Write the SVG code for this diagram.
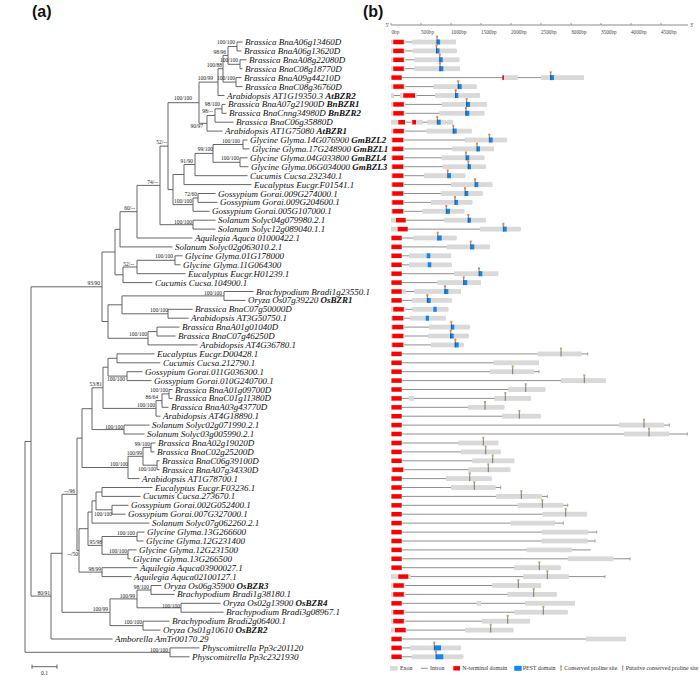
<svg xmlns="http://www.w3.org/2000/svg" xmlns:xlink="http://www.w3.org/1999/xlink" width="700" height="691" viewBox="0 0 700 691">
<style>
.t{font-family:"Liberation Serif",serif;font-style:italic;font-size:9px;fill:#111}
.b{font-weight:bold}
.s{font-family:"Liberation Serif",serif;font-size:5.5px;fill:#222;text-anchor:end}
.tree{fill:none;stroke:#555;stroke-width:0.9}
.ex{fill:#d9d9d9}.nt{fill:#ff0000}.pe{fill:#0f87f0}
.in{stroke:#8f8f8f;stroke-width:1;fill:none}
.lg{font-family:"Liberation Serif",serif;font-size:5.9px;fill:#333}
.ax{font-family:"Liberation Serif",serif;font-size:5.2px;fill:#444}
.pl{font-family:"Liberation Sans",Arial,sans-serif;font-weight:bold;font-size:16px;fill:#111}
</style>
<defs>
<g id="mc"><path d="M0 -4.5V2.5" stroke="#3a3a3a" stroke-width="0.7"/><rect x="-1" y="-6.3" width="2" height="2" fill="#f5793b"/></g>
<g id="mp"><path d="M0 -4.5V2.5" stroke="#4a4a4a" stroke-width="0.7"/><rect x="-1" y="-6.3" width="2" height="2" fill="#b9a56a"/></g>
<path id="tk" d="M0 -1.6V1.6" stroke="#8f8f8f" stroke-width="0.8"/>
<g id="e1"><rect class="ex" x="391" y="-2.4" width="11" height="4.8"/><rect class="nt" x="391.5" y="-2.2" width="10.2" height="4.4"/></g>
<g id="e1b"><rect class="ex" x="391" y="-2.4" width="14.5" height="4.8"/><rect class="nt" x="393.3" y="-2.2" width="10.5" height="4.4"/></g>
<g id="e1c"><rect class="ex" x="391" y="-2.4" width="13.3" height="4.8"/><rect class="nt" x="392.3" y="-2.2" width="11" height="4.4"/></g>
</defs>
<rect width="700" height="691" fill="#fff"/>
<text class="pl" x="32" y="17">(a)</text>
<text class="pl" x="363" y="17">(b)</text>

<g id="connectors" class="tree">
<path d="M237 42V50.9M237 42H242.5M237 50.9H241.5M240 59.8V68.7M240 59.8H246.5M240 68.7H242.5M228 46.5V64.3M228 46.5H237M228 64.3H240M236 77.6V86.6M236 77.6H241.5M236 86.6H242.5M223 55.4V82.1M223 55.4H228M223 82.1H236M218 68.7V95.5M218 68.7H223M218 95.5H224.5M222 104.4V113.3M222 104.4H225.5M222 113.3H226.5M215 108.8V122.2M215 108.8H222M215 122.2H233.5M207 115.5V131.1M207 115.5H215M207 131.1H222.5M199 82.1V123.3M199 82.1H218M199 123.3H207"/>
<path d="M243 140V148.9M243 140H247.5M243 148.9H249.5M240 157.8V166.7M240 157.8H247.5M240 166.7H248.5M213 144.5V162.3M213 144.5H243M213 162.3H240M195 153.4V175.7M195 153.4H213M195 175.7H247.5M184 164.5V184.6M184 164.5H195M184 184.6H251.5M198 193.5V202.4M198 193.5H215.5M198 202.4H217.5M193 198V211.3M193 198H198M193 211.3H209.5M173 174.5V204.6M173 174.5H184M173 204.6H193M168 102.7V189.6M168 102.7H199M168 189.6H173M193 220.2V229.1M193 220.2H215.5M193 229.1H215.5M160 146.1V224.7M160 146.1H168M160 224.7H193M137 185.4V238M137 185.4H160M137 238H192.5M120 211.7V246.9M120 211.7H137M120 246.9H172.5M175 255.8V264.8M175 255.8H182.5M175 264.8H180.5M137 260.3V273.7M137 260.3H175M137 273.7H185.5M123 267V282.6M123 267H137M123 282.6H152.5M115 229.3V274.8M115 229.3H120M115 274.8H123"/>
<path d="M224 291.5V300.4M224 291.5H253.5M224 300.4H245.5M168 309.3V318.2M168 309.3H192.5M168 318.2H188.5M122 295.9V313.8M122 295.9H224M122 313.8H168M157 327.1V336M157 327.1H179.5M157 336H175.5M148 331.6V344.9M148 331.6H157M148 344.9H197.5M108 304.8V338.3M108 304.8H122M108 338.3H148M102 252V321.5M102 252H115M102 321.5H108"/>
<path d="M117 353.9V362.8M117 353.9H154.5M117 362.8H160.5M127 371.7V380.6M127 371.7H142.5M127 380.6H151.5M108 358.3V376.1M108 358.3H117M108 376.1H127M169 389.5V398.4M169 389.5H172.5M169 398.4H172.5M162 393.9V407.3M162 393.9H169M162 407.3H168.5M156 400.6V416.2M156 400.6H162M156 416.2H160.5M103 367.2V408.4M103 367.2H108M103 408.4H156M124 425.1V434M124 425.1H149.5M124 434H144.5M92 387.8V429.6M92 387.8H103M92 429.6H124M151 443V451.9M151 443H155.5M151 451.9H154.5M157 460.8V469.7M157 460.8H159.5M157 469.7H159.5M143 447.4V465.2M143 447.4H151M143 465.2H157M128 456.3V478.6M128 456.3H143M128 478.6H139.5M82 408.7V467.5M82 408.7H92M82 467.5H128"/>
<path d="M102 487.5V496.4M102 487.5H152.5M102 496.4H140.5M112 505.3V514.2M112 505.3H128.5M112 514.2H125.5M96 492V509.8M96 492H102M96 509.8H112M92 500.9V523.1M92 500.9H96M92 523.1H149.5M137 532.1V541M137 532.1H144.5M137 541H143.5M128 549.9V558.8M128 549.9H136.5M128 558.8H130.5M102 536.5V554.3M102 536.5H137M102 554.3H128M88 512V545.4M88 512H92M88 545.4H102M102 567.7V576.6M102 567.7H137.5M102 576.6H131.5M79 528.7V572.1M79 528.7H88M79 572.1H102M77 438.1V550.4M77 438.1H82M77 550.4H79"/>
<path d="M151 585.5V594.4M151 585.5H161.5M151 594.4H174.5M181 603.3V612.2M181 603.3H220.5M181 612.2H223.5M137 590V607.8M137 590H151M137 607.8H181M143 621.2V630.1M143 621.2H169.5M143 630.1H160.5M110 598.9V625.6M110 598.9H137M110 625.6H143M62 494.3V612.3M62 494.3H77M62 612.3H110M51 553.3V639M51 553.3H62M51 639H112.5M31 286.8V596.1M31 286.8H102M31 596.1H51M170 647.9V656.8M170 647.9H199.5M170 656.8H189.5M25 441.5V652.3M25 441.5H31M25 652.3H170"/>
<path d="M32 666.7H57M32 664.6V668.8M57 664.6V668.8"/>
</g>
<text x="44.5" y="675" style="font-family:'Liberation Serif',serif;font-size:5.5px;fill:#222;text-anchor:middle">0.1</text>

<g id="support">
<text class="s" x="235" y="44">100/100</text>
<text class="s" x="226" y="53.7">98/96</text>
<text class="s" x="238" y="62">100/100</text>
<text class="s" x="222" y="67">100/88</text>
<text class="s" x="213" y="79.7">100/99</text>
<text class="s" x="235" y="79.7">100/100</text>
<text class="s" x="192" y="100">100/100</text>
<text class="s" x="220" y="106">98/100</text>
<text class="s" x="213" y="113">98/--</text>
<text class="s" x="203" y="128">90/97</text>
<text class="s" x="167" y="144">52/--</text>
<text class="s" x="240" y="142.7">100/100</text>
<text class="s" x="213" y="151.3">99/100</text>
<text class="s" x="239" y="160.3">100/100</text>
<text class="s" x="193" y="162.7">91/90</text>
<text class="s" x="158" y="183.7">74/--</text>
<text class="s" x="197" y="196">72/60</text>
<text class="s" x="192" y="203">100/100</text>
<text class="s" x="192" y="223.7">100/100</text>
<text class="s" x="135" y="210">60/--</text>
<text class="s" x="173" y="258">100/100</text>
<text class="s" x="134" y="266">52/--</text>
<text class="s" x="100" y="285.3">93/90</text>
<text class="s" x="222" y="294.7">100/100</text>
<text class="s" x="168" y="312">100/100</text>
<text class="s" x="147" y="336">100/100</text>
<text class="s" x="125" y="381">100/100</text>
<text class="s" x="102" y="386">53/81</text>
<text class="s" x="168" y="392">100/100</text>
<text class="s" x="158" y="399">86/64</text>
<text class="s" x="155" y="407">100/100</text>
<text class="s" x="123" y="428.7">100/100</text>
<text class="s" x="150" y="446">99/100</text>
<text class="s" x="142" y="454.7">100/99</text>
<text class="s" x="128" y="466.3">100/100</text>
<text class="s" x="156" y="471.3">100/100</text>
<text class="s" x="75" y="493">--/96</text>
<text class="s" x="112" y="516">100/100</text>
<text class="s" x="135" y="535">100/100</text>
<text class="s" x="102" y="544">95/98</text>
<text class="s" x="127" y="553">100/100</text>
<text class="s" x="78" y="556">--/50</text>
<text class="s" x="101" y="571">98/99</text>
<text class="s" x="149" y="588.7">98/100</text>
<text class="s" x="50" y="594.7">80/91</text>
<text class="s" x="135" y="597.7">100/99</text>
<text class="s" x="180" y="607.7">100/100</text>
<text class="s" x="108" y="611">100/99</text>
<text class="s" x="142" y="624">100/100</text>
<text class="s" x="168" y="652">100/100</text>
</g>

<g id="leaves">
<g id="leaf1"><text class="t" x="245" y="45">Brassica BnaA06g13460D</text></g>
<g id="leaf2"><text class="t" x="244" y="53.9">Brassica BnaA06g13620D</text></g>
<g id="leaf3"><text class="t" x="249" y="62.8">Brassica BnaA08g22080D</text></g>
<g id="leaf4"><text class="t" x="245" y="71.7">Brassica BnaC08g18770D</text></g>
<g id="leaf5"><text class="t" x="244" y="80.6">Brassica BnaA09g44210D</text></g>
<g id="leaf6"><text class="t" x="245" y="89.6">Brassica BnaC08g36760D</text></g>
<g id="leaf7"><text class="t" x="227" y="98.5">Arabidopsis AT1G19350.3 <tspan class="b">AtBZR2</tspan></text></g>
<g id="leaf8"><text class="t" x="228" y="107.4">Brassica BnaA07g21900D <tspan class="b">BnBZR1</tspan></text></g>
<g id="leaf9"><text class="t" x="229" y="116.3">Brassica BnaCnng34980D <tspan class="b">BnBZR2</tspan></text></g>
<g id="leaf10"><text class="t" x="236" y="125.2">Brassica BnaC06g35880D</text></g>
<g id="leaf11"><text class="t" x="225" y="134.1">Arabidopsis AT1G75080 <tspan class="b">AtBZR1</tspan></text></g>
<g id="leaf12"><text class="t" x="250" y="143">Glycine Glyma.14G076900 <tspan class="b">GmBZL2</tspan></text></g>
<g id="leaf13"><text class="t" x="252" y="151.9">Glycine Glyma.17G248900 <tspan class="b">GmBZL1</tspan></text></g>
<g id="leaf14"><text class="t" x="250" y="160.8">Glycine Glyma.04G033800 <tspan class="b">GmBZL4</tspan></text></g>
<g id="leaf15"><text class="t" x="251" y="169.7">Glycine Glyma.06G034000 <tspan class="b">GmBZL3</tspan></text></g>
<g id="leaf16"><text class="t" x="250" y="178.7">Cucumis Cucsa.232340.1</text></g>
<g id="leaf17"><text class="t" x="254" y="187.6">Eucalyptus Eucgr.F01541.1</text></g>
<g id="leaf18"><text class="t" x="218" y="196.5">Gossypium Gorai.009G274000.1</text></g>
<g id="leaf19"><text class="t" x="220" y="205.4">Gossypium Gorai.009G204600.1</text></g>
<g id="leaf20"><text class="t" x="212" y="214.3">Gossypium Gorai.005G107000.1</text></g>
<g id="leaf21"><text class="t" x="218" y="223.2">Solanum Solyc04g079980.2.1</text></g>
<g id="leaf22"><text class="t" x="218" y="232.1">Solanum Solyc12g089040.1.1</text></g>
<g id="leaf23"><text class="t" x="195" y="241">Aquilegia Aquca 01000422.1</text></g>
<g id="leaf24"><text class="t" x="175" y="249.9">Solanum Solyc02g063010.2.1</text></g>
<g id="leaf25"><text class="t" x="185" y="258.8">Glycine Glyma.01G178000</text></g>
<g id="leaf26"><text class="t" x="183" y="267.8">Glycine Glyma.11G064300</text></g>
<g id="leaf27"><text class="t" x="188" y="276.7">Eucalyptus Eucgr.H01239.1</text></g>
<g id="leaf28"><text class="t" x="155" y="285.6">Cucumis Cucsa.104900.1</text></g>
<g id="leaf29"><text class="t" x="256" y="294.5">Brachypodium Bradi1g23550.1</text></g>
<g id="leaf30"><text class="t" x="248" y="303.4">Oryza Os07g39220 <tspan class="b">OsBZR1</tspan></text></g>
<g id="leaf31"><text class="t" x="195" y="312.3">Brassica BnaC07g50000D</text></g>
<g id="leaf32"><text class="t" x="191" y="321.2">Arabidopsis AT3G50750.1</text></g>
<g id="leaf33"><text class="t" x="182" y="330.1">Brassica BnaA01g01040D</text></g>
<g id="leaf34"><text class="t" x="178" y="339">Brassica BnaC07g46250D</text></g>
<g id="leaf35"><text class="t" x="200" y="347.9">Arabidopsis AT4G36780.1</text></g>
<g id="leaf36"><text class="t" x="157" y="356.9">Eucalyptus Eucgr.D00428.1</text></g>
<g id="leaf37"><text class="t" x="163" y="365.8">Cucumis Cucsa.212790.1</text></g>
<g id="leaf38"><text class="t" x="145" y="374.7">Gossypium Gorai.011G036300.1</text></g>
<g id="leaf39"><text class="t" x="154" y="383.6">Gossypium Gorai.010G240700.1</text></g>
<g id="leaf40"><text class="t" x="175" y="392.5">Brassica BnaA01g09700D</text></g>
<g id="leaf41"><text class="t" x="175" y="401.4">Brassica BnaC01g11380D</text></g>
<g id="leaf42"><text class="t" x="171" y="410.3">Brassica BnaA03g43770D</text></g>
<g id="leaf43"><text class="t" x="163" y="419.2">Arabidopsis AT4G18890.1</text></g>
<g id="leaf44"><text class="t" x="152" y="428.1">Solanum Solyc02g071990.2.1</text></g>
<g id="leaf45"><text class="t" x="147" y="437">Solanum Solyc03g005990.2.1</text></g>
<g id="leaf46"><text class="t" x="158" y="446">Brassica BnaA02g19020D</text></g>
<g id="leaf47"><text class="t" x="157" y="454.9">Brassica BnaC02g25200D</text></g>
<g id="leaf48"><text class="t" x="162" y="463.8">Brassica BnaC06g39100D</text></g>
<g id="leaf49"><text class="t" x="162" y="472.7">Brassica BnaA07g34330D</text></g>
<g id="leaf50"><text class="t" x="142" y="481.6">Arabidopsis AT1G78700.1</text></g>
<g id="leaf51"><text class="t" x="155" y="490.5">Eucalyptus Eucgr.F03236.1</text></g>
<g id="leaf52"><text class="t" x="143" y="499.4">Cucumis Cucsa.273670.1</text></g>
<g id="leaf53"><text class="t" x="131" y="508.3">Gossypium Gorai.002G052400.1</text></g>
<g id="leaf54"><text class="t" x="128" y="517.2">Gossypium Gorai.007G327000.1</text></g>
<g id="leaf55"><text class="t" x="152" y="526.1">Solanum Solyc07g062260.2.1</text></g>
<g id="leaf56"><text class="t" x="147" y="535.1">Glycine Glyma.13G266600</text></g>
<g id="leaf57"><text class="t" x="146" y="544">Glycine Glyma.12G231400</text></g>
<g id="leaf58"><text class="t" x="139" y="552.9">Glycine Glyma.12G231500</text></g>
<g id="leaf59"><text class="t" x="133" y="561.8">Glycine Glyma.13G266500</text></g>
<g id="leaf60"><text class="t" x="140" y="570.7">Aquilegia Aquca03900027.1</text></g>
<g id="leaf61"><text class="t" x="134" y="579.6">Aquilegia Aquca02100127.1</text></g>
<g id="leaf62"><text class="t" x="164" y="588.5">Oryza Os06g35900 <tspan class="b">OsBZR3</tspan></text></g>
<g id="leaf63"><text class="t" x="177" y="597.4">Brachypodium Bradi1g38180.1</text></g>
<g id="leaf64"><text class="t" x="223" y="606.3">Oryza Os02g13900 <tspan class="b">OsBZR4</tspan></text></g>
<g id="leaf65"><text class="t" x="226" y="615.2">Brachypodium Bradi3g08967.1</text></g>
<g id="leaf66"><text class="t" x="172" y="624.2">Brachypodium Bradi2g06400.1</text></g>
<g id="leaf67"><text class="t" x="163" y="633.1">Oryza Os01g10610 <tspan class="b">OsBZR2</tspan></text></g>
<g id="leaf68"><text class="t" x="115" y="642">Amborella AmTr00170.29</text></g>
<g id="leaf69"><text class="t" x="202" y="650.9">Physcomitrella Pp3c201120</text></g>
<g id="leaf70"><text class="t" x="192" y="659.8">Physcomitrella Pp3c2321930</text></g>
</g>

<g id="axis">
<path d="M391 25H688" stroke="#8a8a8a" stroke-width="1"/>
<path d="M391 25V22.8M421 25V22.8M451 25V22.8M481 25V22.8M511 25V22.8M541 25V22.8M571 25V22.8M601 25V22.8M631 25V22.8M661 25V22.8" stroke="#8a8a8a" stroke-width="0.8"/>
<text class="ax" x="385.5" y="27">5'</text>
<text class="ax" x="690" y="27">3'</text>
<text class="ax" x="391.5" y="33.5">0bp</text>
<text class="ax" x="421" y="33.5">500bp</text>
<text class="ax" x="451" y="33.5">1000bp</text>
<text class="ax" x="481" y="33.5">1500bp</text>
<text class="ax" x="511" y="33.5">2000bp</text>
<text class="ax" x="541" y="33.5">2500bp</text>
<text class="ax" x="571" y="33.5">3000bp</text>
<text class="ax" x="601" y="33.5">3500bp</text>
<text class="ax" x="631" y="33.5">4000bp</text>
<text class="ax" x="661" y="33.5">4500bp</text>
</g>

<g id="genes">
<g id="gene1" transform="translate(0,42)"><path class="in" d="M391 0H456"/><use href="#e1b"/><rect class="ex" x="412.3" y="-2.4" width="43.7" height="4.8"/><rect class="pe" x="436.7" y="-2.5" width="3.4" height="5"/><use href="#mc" x="437"/></g>
<g id="gene2" transform="translate(0,50.9)"><path class="in" d="M391 0H456.7"/><use href="#e1b"/><rect class="ex" x="412.7" y="-2.4" width="44" height="4.8"/><rect class="pe" x="436" y="-2.5" width="3.5" height="5"/><use href="#mc" x="436.5"/></g>
<g id="gene3" transform="translate(0,59.8)"><path class="in" d="M391 0H459.3"/><use href="#e1b"/><rect class="ex" x="414.3" y="-2.4" width="45" height="4.8"/><rect class="pe" x="439.3" y="-2.5" width="3.4" height="5"/><use href="#mc" x="439.8"/></g>
<g id="gene4" transform="translate(0,68.7)"><path class="in" d="M391 0H460"/><use href="#e1b"/><rect class="ex" x="414.3" y="-2.4" width="45.7" height="4.8"/><rect class="pe" x="439.3" y="-2.5" width="4" height="5"/><use href="#mc" x="440"/></g>
<g id="gene5" transform="translate(0,77.6)"><path class="in" d="M391 0H584"/><use href="#e1"/><rect class="ex" x="502.3" y="-2.4" width="15.4" height="4.8"/><rect class="nt" x="502.3" y="-2.2" width="1.7" height="4.4"/><rect class="ex" x="541" y="-2.4" width="43" height="4.8"/><rect class="pe" x="550" y="-2.5" width="4" height="5"/><use href="#mc" x="550.7"/></g>
<g id="gene6" transform="translate(0,86.6)"><path class="in" d="M391 0H476.7"/><use href="#e1b"/><rect class="ex" x="433.3" y="-2.4" width="43.4" height="4.8"/><rect class="pe" x="457.7" y="-2.5" width="4" height="5"/><use href="#mc" x="458.3"/></g>
<g id="gene7" transform="translate(0,95.5)"><path class="in" d="M391 0H480"/><rect class="ex" x="391" y="-2.4" width="3" height="4.8"/><rect class="ex" x="400" y="-2.4" width="16.7" height="4.8"/><rect class="nt" x="403.3" y="-2.2" width="11.7" height="4.4"/><rect class="ex" x="435" y="-2.4" width="45" height="4.8"/><rect class="pe" x="455" y="-2.5" width="3.3" height="5"/><use href="#mc" x="455.7"/></g>
<g id="gene8" transform="translate(0,104.4)"><path class="in" d="M391 0H486.7"/><use href="#e1b"/><rect class="ex" x="441.7" y="-2.4" width="45" height="4.8"/><rect class="pe" x="466" y="-2.5" width="4" height="5"/><use href="#mc" x="466.7"/></g>
<g id="gene9" transform="translate(0,113.3)"><path class="in" d="M391 0H484.3"/><use href="#e1b"/><rect class="ex" x="439.3" y="-2.4" width="45" height="4.8"/><rect class="pe" x="465.3" y="-2.5" width="4" height="5"/><use href="#mc" x="466"/></g>
<g id="gene10" transform="translate(0,122.2)"><path class="in" d="M391 0H452.7"/><rect class="ex" x="391" y="-2.4" width="14.7" height="4.8"/><rect class="nt" x="398.3" y="-2.2" width="6.7" height="4.4"/><rect class="ex" x="411" y="-2.4" width="11.7" height="4.8"/><rect class="nt" x="412.3" y="-2.2" width="3.7" height="4.4"/><rect class="ex" x="427.3" y="-2.4" width="18.7" height="4.8"/><rect class="pe" x="437.3" y="-2.5" width="3.4" height="5"/><use href="#mc" x="437.3"/><rect class="ex" x="447" y="-2.4" width="5.7" height="4.8"/></g>
<g id="gene11" transform="translate(0,131.1)"><path class="in" d="M391 0H471.7"/><use href="#e1b"/><rect class="ex" x="426.7" y="-2.4" width="45" height="4.8"/><rect class="pe" x="452.7" y="-2.5" width="4" height="5"/><use href="#mc" x="453.3"/></g>
<g id="gene12" transform="translate(0,140)"><path class="in" d="M391 0H506.7"/><use href="#e1c"/><rect class="ex" x="465" y="-2.4" width="41.7" height="4.8"/><rect class="pe" x="489.3" y="-2.5" width="3.4" height="5"/><use href="#mc" x="489.3"/></g>
<g id="gene13" transform="translate(0,148.9)"><path class="in" d="M391 0H494"/><use href="#e1c"/><rect class="ex" x="452.3" y="-2.4" width="41.7" height="4.8"/><rect class="pe" x="476.7" y="-2.5" width="3.3" height="5"/><use href="#mc" x="477"/></g>
<g id="gene14" transform="translate(0,157.8)"><path class="in" d="M391 0H484.3"/><use href="#e1c"/><rect class="ex" x="441.7" y="-2.4" width="42.6" height="4.8"/><rect class="pe" x="466" y="-2.5" width="3.3" height="5"/><use href="#mc" x="466"/></g>
<g id="gene15" transform="translate(0,166.7)"><path class="in" d="M391 0H485.7"/><use href="#e1c"/><rect class="ex" x="442.7" y="-2.4" width="43" height="4.8"/><rect class="pe" x="467.7" y="-2.5" width="3.3" height="5"/><use href="#mc" x="468.3"/></g>
<g id="gene16" transform="translate(0,175.7)"><path class="in" d="M391 0H465.3"/><use href="#e1c"/><rect class="ex" x="424" y="-2.4" width="41.3" height="4.8"/><rect class="pe" x="447.7" y="-2.5" width="3.3" height="5"/><use href="#mc" x="447.7"/></g>
<g id="gene17" transform="translate(0,184.6)"><path class="in" d="M391 0H492.3"/><use href="#e1c"/><rect class="ex" x="451" y="-2.4" width="41.3" height="4.8"/><rect class="pe" x="475" y="-2.5" width="3.3" height="5"/><use href="#mc" x="475"/></g>
<g id="gene18" transform="translate(0,193.5)"><path class="in" d="M391 0H482.7"/><use href="#e1c"/><rect class="ex" x="440.7" y="-2.4" width="42" height="4.8"/><rect class="pe" x="465" y="-2.5" width="3.3" height="5"/><use href="#mc" x="465"/></g>
<g id="gene19" transform="translate(0,202.4)"><path class="in" d="M391 0H472.3"/><use href="#e1c"/><rect class="ex" x="431" y="-2.4" width="41.3" height="4.8"/><rect class="pe" x="454.7" y="-2.5" width="3.3" height="5"/><use href="#mc" x="455"/></g>
<g id="gene20" transform="translate(0,211.3)"><path class="in" d="M391 0H464.3"/><use href="#e1c"/><rect class="ex" x="422.3" y="-2.4" width="42" height="4.8"/><rect class="pe" x="446" y="-2.5" width="4" height="5"/><use href="#mc" x="446.3"/></g>
<g id="gene21" transform="translate(0,220.2)"><path class="in" d="M391 0H485.7"/><rect class="ex" x="391" y="-2.4" width="14.7" height="4.8"/><rect class="nt" x="396" y="-2.2" width="9.7" height="4.4"/><rect class="ex" x="444.3" y="-2.4" width="41.4" height="4.8"/><rect class="pe" x="467.7" y="-2.5" width="3.3" height="5"/><use href="#mc" x="468.3"/></g>
<g id="gene22" transform="translate(0,229.1)"><path class="in" d="M391 0H520.7"/><rect class="ex" x="391" y="-2.4" width="16.7" height="4.8"/><rect class="nt" x="397.7" y="-2.2" width="10" height="4.4"/><rect class="ex" x="480" y="-2.4" width="40.7" height="4.8"/><rect class="pe" x="503.3" y="-2.5" width="3.4" height="5"/><use href="#mc" x="503.3"/></g>
<g id="gene23" transform="translate(0,238)"><path class="in" d="M391 0H456.7"/><use href="#e1"/><rect class="ex" x="413.3" y="-2.4" width="43.4" height="4.8"/><rect class="pe" x="437.7" y="-2.5" width="4" height="5"/><use href="#mc" x="437.7"/></g>
<g id="gene24" transform="translate(0,246.9)"><path class="in" d="M391 0H490"/><use href="#e1"/><rect class="ex" x="446.7" y="-2.4" width="43.3" height="4.8"/><rect class="pe" x="470.7" y="-2.5" width="3.6" height="5"/><use href="#mc" x="470.7"/></g>
<g id="gene25" transform="translate(0,255.8)"><path class="in" d="M391 0H451"/><use href="#e1"/><rect class="ex" x="409" y="-2.4" width="42" height="4.8"/><rect class="pe" x="426.7" y="-2.5" width="3.6" height="5"/></g>
<g id="gene26" transform="translate(0,264.8)"><path class="in" d="M391 0H451.7"/><use href="#e1"/><rect class="ex" x="409" y="-2.4" width="42.7" height="4.8"/><rect class="pe" x="427.7" y="-2.5" width="3.6" height="5"/></g>
<g id="gene27" transform="translate(0,273.7)"><path class="in" d="M391 0H498.3"/><use href="#e1"/><rect class="ex" x="454" y="-2.4" width="44.3" height="4.8"/><rect class="pe" x="479" y="-2.5" width="3.3" height="5"/><use href="#mc" x="479"/></g>
<g id="gene28" transform="translate(0,282.6)"><path class="in" d="M391 0H481"/><use href="#e1"/><rect class="ex" x="437.3" y="-2.4" width="43.7" height="4.8"/><rect class="pe" x="463.3" y="-2.5" width="4" height="5"/><use href="#mc" x="463.7"/></g>
<g id="gene29" transform="translate(0,291.5)"><path class="in" d="M391 0H461"/><rect class="ex" x="391" y="-2.4" width="14.7" height="4.8"/><rect class="nt" x="391.5" y="-2.2" width="10.2" height="4.4"/><rect class="ex" x="414.3" y="-2.4" width="46.7" height="4.8"/><rect class="pe" x="444.3" y="-2.5" width="4" height="5"/><use href="#mc" x="445"/></g>
<g id="gene30" transform="translate(0,300.4)"><path class="in" d="M391 0H451.7"/><use href="#e1"/><rect class="ex" x="411.7" y="-2.4" width="40" height="4.8"/><rect class="pe" x="427" y="-2.5" width="3.7" height="5"/><use href="#mc" x="427.3"/></g>
<g id="gene31" transform="translate(0,309.3)"><path class="in" d="M391 0H448.3"/><use href="#e1b"/><rect class="ex" x="412.3" y="-2.4" width="36" height="4.8"/><rect class="pe" x="433.3" y="-2.5" width="3.4" height="5"/></g>
<g id="gene32" transform="translate(0,318.2)"><path class="in" d="M391 0H445.7"/><use href="#e1c"/><rect class="ex" x="410" y="-2.4" width="35.7" height="4.8"/><rect class="pe" x="425.7" y="-2.5" width="3.3" height="5"/></g>
<g id="gene33" transform="translate(0,327.1)"><path class="in" d="M391 0H469.7"/><use href="#e1c"/><rect class="ex" x="429" y="-2.4" width="40.7" height="4.8"/><rect class="pe" x="451" y="-2.5" width="3.3" height="5"/><use href="#mc" x="451.3"/></g>
<g id="gene34" transform="translate(0,336)"><path class="in" d="M391 0H468.7"/><use href="#e1c"/><rect class="ex" x="428" y="-2.4" width="40.7" height="4.8"/><rect class="pe" x="450" y="-2.5" width="3.7" height="5"/><use href="#mc" x="450.7"/></g>
<g id="gene35" transform="translate(0,344.9)"><path class="in" d="M391 0H463.7"/><use href="#e1c"/><rect class="ex" x="431" y="-2.4" width="32.7" height="4.8"/><rect class="pe" x="454.7" y="-2.5" width="4" height="5"/><use href="#mc" x="455.3"/></g>
<g id="gene36" transform="translate(0,353.9)"><path class="in" d="M391 0H587.7"/><use href="#tk" x="587.7"/><use href="#e1"/><rect class="ex" x="537.3" y="-2.4" width="44.4" height="4.8"/><use href="#mp" x="561"/></g>
<g id="gene37" transform="translate(0,362.8)"><path class="in" d="M391 0H539"/><use href="#e1"/><rect class="ex" x="493.3" y="-2.4" width="45.7" height="4.8"/></g>
<g id="gene38" transform="translate(0,371.7)"><path class="in" d="M391 0H539"/><use href="#tk" x="539"/><use href="#e1"/><rect class="ex" x="490" y="-2.4" width="44" height="4.8"/><use href="#mp" x="512.7"/></g>
<g id="gene39" transform="translate(0,380.6)"><path class="in" d="M391 0H605.7"/><use href="#e1"/><rect class="ex" x="561" y="-2.4" width="44.7" height="4.8"/><use href="#mp" x="584.3"/></g>
<g id="gene40" transform="translate(0,389.5)"><path class="in" d="M391 0H545.3"/><use href="#e1"/><rect class="ex" x="508.3" y="-2.4" width="37" height="4.8"/><use href="#mp" x="525.7"/></g>
<g id="gene41" transform="translate(0,398.4)"><path class="in" d="M391 0H531"/><use href="#e1"/><rect class="ex" x="409" y="-2.4" width="5" height="4.8"/><rect class="ex" x="494.3" y="-2.4" width="36.7" height="4.8"/><use href="#mp" x="505.3"/></g>
<g id="gene42" transform="translate(0,407.3)"><path class="in" d="M391 0H504.3"/><use href="#e1"/><rect class="ex" x="468" y="-2.4" width="36.3" height="4.8"/><use href="#mp" x="485"/></g>
<g id="gene43" transform="translate(0,416.2)"><path class="in" d="M391 0H540.7"/><use href="#e1"/><rect class="ex" x="502.3" y="-2.4" width="38.4" height="4.8"/><use href="#mp" x="519.3"/></g>
<g id="gene44" transform="translate(0,425.1)"><path class="in" d="M391 0H669.3"/><use href="#tk" x="669.3"/><use href="#e1"/><rect class="ex" x="619" y="-2.4" width="45" height="4.8"/><use href="#mp" x="644"/></g>
<g id="gene45" transform="translate(0,434)"><path class="in" d="M391 0H687.3"/><use href="#tk" x="687.3"/><use href="#e1"/><rect class="ex" x="624" y="-2.4" width="45" height="4.8"/><use href="#mp" x="649"/></g>
<g id="gene46" transform="translate(0,443)"><path class="in" d="M391 0H498.3"/><use href="#e1"/><rect class="ex" x="458.3" y="-2.4" width="40" height="4.8"/><use href="#mp" x="483.3"/></g>
<g id="gene47" transform="translate(0,451.9)"><path class="in" d="M391 0H500.7"/><use href="#e1"/><rect class="ex" x="461" y="-2.4" width="39.7" height="4.8"/><use href="#mp" x="485.7"/></g>
<g id="gene48" transform="translate(0,460.8)"><path class="in" d="M391 0H514.3"/><use href="#e1"/><rect class="ex" x="472.3" y="-2.4" width="42" height="4.8"/><use href="#mp" x="492.7"/></g>
<g id="gene49" transform="translate(0,469.7)"><path class="in" d="M391 0H510.3"/><use href="#e1c"/><rect class="ex" x="468.3" y="-2.4" width="42" height="4.8"/><use href="#mp" x="488.3"/></g>
<g id="gene50" transform="translate(0,478.6)"><path class="in" d="M391 0H491.7"/><use href="#e1"/><rect class="ex" x="446" y="-2.4" width="45.7" height="4.8"/><use href="#mp" x="469.7"/></g>
<g id="gene51" transform="translate(0,487.5)"><path class="in" d="M391 0H500.7"/><use href="#tk" x="500.7"/><use href="#e1"/><rect class="ex" x="451" y="-2.4" width="44.7" height="4.8"/><use href="#mp" x="474.3"/></g>
<g id="gene52" transform="translate(0,496.4)"><path class="in" d="M391 0H547.3"/><use href="#tk" x="547.3"/><use href="#e1"/><rect class="ex" x="496" y="-2.4" width="46" height="4.8"/><use href="#mp" x="521.3"/></g>
<g id="gene53" transform="translate(0,505.3)"><path class="in" d="M391 0H567.7"/><use href="#tk" x="567.7"/><use href="#e1"/><rect class="ex" x="517.7" y="-2.4" width="45.6" height="4.8"/><use href="#mp" x="542.3"/></g>
<g id="gene54" transform="translate(0,514.2)"><path class="in" d="M391 0H586.7"/><use href="#e1"/><rect class="ex" x="542.7" y="-2.4" width="44" height="4.8"/><use href="#mp" x="565.7"/></g>
<g id="gene55" transform="translate(0,523.1)"><path class="in" d="M391 0H563.3"/><use href="#tk" x="563.3"/><use href="#e1"/><rect class="ex" x="510.7" y="-2.4" width="44.3" height="4.8"/></g>
<g id="gene56" transform="translate(0,532.1)"><path class="in" d="M391 0H596.7"/><use href="#tk" x="596.7"/><use href="#e1"/><rect class="ex" x="541.7" y="-2.4" width="46.6" height="4.8"/></g>
<g id="gene57" transform="translate(0,541)"><path class="in" d="M391 0H595"/><use href="#tk" x="595"/><use href="#e1"/><rect class="ex" x="541.7" y="-2.4" width="46" height="4.8"/></g>
<g id="gene58" transform="translate(0,549.9)"><path class="in" d="M391 0H590.7"/><use href="#e1"/><rect class="ex" x="526.7" y="-2.4" width="45" height="4.8"/></g>
<g id="gene59" transform="translate(0,558.8)"><path class="in" d="M391 0H630"/><use href="#tk" x="630"/><use href="#e1"/><rect class="ex" x="567.7" y="-2.4" width="45.6" height="4.8"/></g>
<g id="gene60" transform="translate(0,567.7)"><path class="in" d="M391 0H560.7"/><use href="#e1"/><rect class="ex" x="514.3" y="-2.4" width="46.4" height="4.8"/><use href="#mp" x="539.3"/></g>
<g id="gene61" transform="translate(0,576.6)"><path class="in" d="M391 0H605"/><use href="#tk" x="605"/><rect class="ex" x="391" y="-2.4" width="20" height="4.8"/><rect class="nt" x="398.3" y="-2.2" width="10" height="4.4"/><rect class="ex" x="523.3" y="-2.4" width="45.4" height="4.8"/><use href="#mp" x="547.3"/></g>
<g id="gene62" transform="translate(0,585.5)"><path class="in" d="M391 0H541"/><use href="#e1b"/><rect class="ex" x="492.3" y="-2.4" width="48.7" height="4.8"/><use href="#mp" x="518.3"/></g>
<g id="gene63" transform="translate(0,594.4)"><path class="in" d="M391 0H556.7"/><use href="#e1b"/><rect class="ex" x="507.3" y="-2.4" width="49.4" height="4.8"/><use href="#mp" x="533.7"/></g>
<g id="gene64" transform="translate(0,603.3)"><path class="in" d="M391 0H575"/><use href="#e1"/><rect class="ex" x="476.7" y="-2.4" width="4.3" height="4.8"/><rect class="ex" x="525" y="-2.4" width="50" height="4.8"/></g>
<g id="gene65" transform="translate(0,612.2)"><path class="in" d="M391 0H567.7"/><use href="#e1b"/><rect class="ex" x="514.3" y="-2.4" width="53.4" height="4.8"/><use href="#mp" x="543.3"/></g>
<g id="gene66" transform="translate(0,621.2)"><path class="in" d="M391 0H530"/><use href="#e1b"/><rect class="ex" x="481.7" y="-2.4" width="48.3" height="4.8"/><use href="#mp" x="507.7"/></g>
<g id="gene67" transform="translate(0,630.1)"><path class="in" d="M391 0H513.3"/><rect class="ex" x="391" y="-2.4" width="15.7" height="4.8"/><rect class="nt" x="395" y="-2.2" width="10.7" height="4.4"/><rect class="ex" x="465" y="-2.4" width="48.3" height="4.8"/><use href="#mp" x="490.7"/></g>
<g id="gene68" transform="translate(0,639)"><path class="in" d="M391 0H626"/><use href="#e1"/><rect class="ex" x="586" y="-2.4" width="40" height="4.8"/></g>
<g id="gene69" transform="translate(0,647.9)"><path class="in" d="M391 0H461"/><use href="#e1"/><rect class="ex" x="410" y="-2.4" width="51" height="4.8"/><rect class="pe" x="434.3" y="-2.5" width="6.7" height="5"/><use href="#mc" x="434.3"/></g>
<g id="gene70" transform="translate(0,656.8)"><path class="in" d="M391 0H463.3"/><use href="#e1"/><rect class="ex" x="411.7" y="-2.4" width="51.6" height="4.8"/><rect class="pe" x="436" y="-2.5" width="7.3" height="5"/><use href="#mc" x="436"/></g>
</g>

<g id="legend">
<rect class="ex" x="390" y="666" width="7.7" height="4.6"/>
<text class="lg" x="400" y="670.3">Exon</text>
<path class="in" d="M421 668.3H427.7"/>
<text class="lg" x="430" y="670.3">Intron</text>
<rect class="nt" x="453.3" y="666.1" width="6.7" height="4.4"/>
<text class="lg" x="462.3" y="670.3">N-terminal domain</text>
<rect class="pe" x="514.3" y="665.8" width="7.4" height="5"/>
<text class="lg" x="522.7" y="670.3">PEST domain</text>
<g transform="translate(561,670)"><path d="M0 -3.5V1" stroke="#3a3a3a" stroke-width="0.6"/><rect x="-0.8" y="-4.6" width="1.6" height="1.6" fill="#f5793b"/></g>
<text class="lg" x="564.3" y="670.3">Conserved proline site</text>
<g transform="translate(622.7,670)"><path d="M0 -3.5V1" stroke="#4a4a4a" stroke-width="0.6"/><rect x="-0.8" y="-4.6" width="1.6" height="1.6" fill="#b9a56a"/></g>
<text class="lg" x="625.7" y="670.3">Putative conserved proline site</text>
</g>
</svg>
